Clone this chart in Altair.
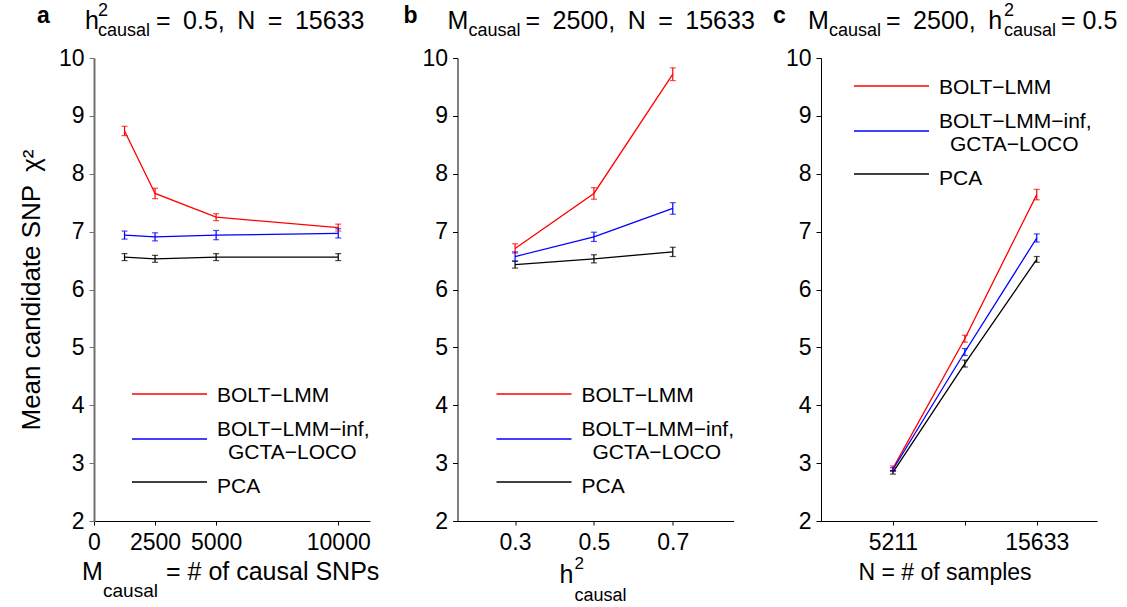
import altair as alt
import pandas as pd

FONT = "Liberation Sans"
M = "\u2212"
ES = "\u2002"
SERIES = ["BOLT-LMM", "BOLT-LMM-inf", "PCA"]
COLORS = ["#ff0000", "#0000ff", "#000000"]

# ---- panel a: varying M_causal ----
a_x = [1250, 2500, 5000, 10000]
a_bolt = [8.74, 7.66, 7.25, 7.07]
a_bolt_err = [0.08, 0.09, 0.06, 0.06]
a_inf = [6.94, 6.91, 6.94, 6.97]
a_inf_err = [0.07, 0.07, 0.08, 0.08]
a_pca = [6.56, 6.53, 6.56, 6.56]
a_pca_err = [0.06, 0.06, 0.06, 0.06]
a_ticks = [0, 2500, 5000, 10000]

# ---- panel b: varying h2_causal ----
b_x = [0.3, 0.5, 0.7]
b_bolt = [6.71, 7.66, 9.72]
b_bolt_err = [0.08, 0.1, 0.11]
b_inf = [6.57, 6.91, 7.40]
b_inf_err = [0.08, 0.08, 0.1]
b_pca = [6.43, 6.53, 6.65]
b_pca_err = [0.06, 0.07, 0.08]
b_ticks = [0.3, 0.5, 0.7]

# ---- panel c: varying N ----
c_x = [5211, 10422, 15633]
c_bolt = [2.91, 5.15, 7.64]
c_bolt_err = [0.04, 0.06, 0.09]
c_inf = [2.89, 4.92, 6.89]
c_inf_err = [0.03, 0.06, 0.07]
c_pca = [2.84, 4.72, 6.52]
c_pca_err = [0.03, 0.06, 0.05]
c_ticks = [5211, 10422, 15633]

Y_TICKS = [2, 3, 4, 5, 6, 7, 8, 9, 10]
W, H = 276, 463
DUMMY = pd.DataFrame({"k": [0]})


def make_df(xs, vals, errs):
    rows = []
    for s, v, e in zip(SERIES, vals, errs):
        for x, y, er in zip(xs, v, e):
            rows.append({"x": x, "y": y, "lo": y - er, "hi": y + er, "s": s})
    return pd.DataFrame(rows)


def txt(text, x, y, size=22, weight="normal", align="left", baseline="alphabetic", angle=0):
    return alt.Chart(DUMMY).mark_text(
        text=text, font=FONT, fontSize=size, fontWeight=weight, align=align,
        baseline=baseline, color="black", angle=angle
    ).encode(x=alt.value(x), y=alt.value(y))


def seg(x1, x2, y, color):
    return alt.Chart(DUMMY).mark_rule(color=color, strokeWidth=1.3).encode(
        x=alt.value(x1), x2=alt.value(x2), y=alt.value(y)
    )


def legend(lx, ly):
    L = 75
    tx = lx + L + 10
    return [
        seg(lx, lx + L, ly, COLORS[0]),
        seg(lx, lx + L, ly + 45, COLORS[1]),
        seg(lx, lx + L, ly + 88, COLORS[2]),
        txt(f"BOLT{M}LMM", tx, ly + 2, size=21, baseline="middle"),
        txt(f"BOLT{M}LMM{M}inf,", tx, ly + 36, size=21, baseline="middle"),
        txt(f"GCTA{M}LOCO", tx + 11, ly + 59, size=21, baseline="middle"),
        txt("PCA", tx, ly + 93, size=21, baseline="middle"),
    ]


def panel(df, xdomain, xticks, xfmt, extras, labelExpr=None, ytitle=None, ycolor="black", ywidth=1):
    xs = alt.Scale(domain=xdomain, nice=False, zero=False)
    ys = alt.Scale(domain=[2, 10], nice=False, zero=False)
    xaxis_kw = dict(values=xticks, format=xfmt, title=None, grid=False, tickSize=4,
                    labelPadding=6, labelFontSize=23, labelFont=FONT, labelColor="black",
                    domainColor="black", tickColor="black", domainWidth=1, labelFlush=False,
                    labelOverlap=False)
    if labelExpr:
        xaxis_kw["labelExpr"] = labelExpr
    yaxis_kw = dict(values=Y_TICKS, format="d", grid=False, tickSize=5, labelPadding=5,
                    labelFontSize=23, labelFont=FONT, labelColor="black", domainColor=ycolor,
                    tickColor=ycolor, domainWidth=ywidth, labelFlush=False, labelOverlap=False)
    if ytitle:
        yaxis_kw.update(title=ytitle, titleFont=FONT, titleFontSize=26, titleFontWeight="normal",
                        titleColor="black", titleX=-50, titleY=H / 2, titleAngle=270,
                        titleBaseline="bottom", titleAlign="center")
    else:
        yaxis_kw["title"] = None
    color = alt.Color("s:N", scale=alt.Scale(domain=SERIES, range=COLORS), legend=None)
    base = alt.Chart(df)
    lines = base.mark_line(strokeWidth=1.3).encode(
        x=alt.X("x:Q", scale=xs, axis=alt.Axis(**xaxis_kw)),
        y=alt.Y("y:Q", scale=ys, axis=alt.Axis(**yaxis_kw)),
        color=color,
    )
    bars = base.mark_rule(strokeWidth=1.2).encode(
        x=alt.X("x:Q", scale=xs), y=alt.Y("lo:Q", scale=ys), y2="hi:Q", color=color
    )
    cap_lo = base.mark_tick(orient="horizontal", size=6, thickness=1.2).encode(
        x=alt.X("x:Q", scale=xs), y=alt.Y("lo:Q", scale=ys), color=color
    )
    cap_hi = base.mark_tick(orient="horizontal", size=6, thickness=1.2).encode(
        x=alt.X("x:Q", scale=xs), y=alt.Y("hi:Q", scale=ys), color=color
    )
    return alt.layer(lines, bars, cap_lo, cap_hi, *extras).properties(width=W, height=H)


df_a = make_df(a_x, [a_bolt, a_inf, a_pca], [a_bolt_err, a_inf_err, a_pca_err])
df_b = make_df(b_x, [b_bolt, b_inf, b_pca], [b_bolt_err, b_inf_err, b_pca_err])
df_c = make_df(c_x, [c_bolt, c_inf, c_pca], [c_bolt_err, c_inf_err, c_pca_err])

anchor = alt.Chart(DUMMY).mark_rule(opacity=0, strokeWidth=0.5).encode(
    x=alt.value(-94), x2=alt.value(-93), y=alt.value(-58), y2=alt.value(-58)
)

TS, SS = 25, 18  # title size, sub/superscript size

extras_a = [
    anchor,
    txt("a", -57, -35, size=23, weight="bold"),
    txt("h", -9, -29, size=TS),
    txt("2", 4, -42, size=SS),
    txt("causal", 4, -22, size=SS),
    txt(f"={ES}0.5,{ES}N{ES}={ES}15633", 62, -29, size=TS),
    txt("M", -12, 522, size=25),
    txt("causal", 9, 539, size=19),
    txt("= # of causal SNPs", 72, 522, size=25),
] + legend(38, 336)

extras_b = [
    txt("b", -54, -35, size=23, weight="bold"),
    txt("M", -10, -29, size=TS),
    txt("causal", 11, -22, size=SS),
    txt(f"={ES}2500,{ES}N{ES}={ES}15633", 68, -29, size=TS),
    txt("h", 102, 525, size=25),
    txt("2", 117, 511, size=17),
    txt("causal", 117, 543, size=18),
] + legend(39, 336)

extras_c = [
    txt("c", -48, -35, size=23, weight="bold"),
    txt("M", -13, -29, size=TS),
    txt("causal", 8, -22, size=SS),
    txt(f"={ES}2500,{ES}h", 65, -29, size=TS),
    txt("2", 183, -42, size=SS),
    txt("causal", 183, -22, size=SS),
    txt("= 0.5", 240, -29, size=TS),
    txt("N = # of samples", 124, 522, size=23, align="center"),
] + legend(33, 28)

pa = panel(df_a, [0, 11300], a_ticks, "d", extras_a,
           ytitle=f"Mean candidate SNP{ES}\u03c7\u00b2", ycolor="#707070", ywidth=2)
pb = panel(df_b, [0.154, 0.854], b_ticks, ".1f", extras_b)
pc = panel(df_c, [0, 20000], c_ticks, "d", extras_c,
           labelExpr="datum.value == 10422 ? '' : datum.label")

chart = alt.hconcat(pa, pb, pc, spacing=87.5, bounds="flush").properties(
    padding=0, background="white"
).configure_view(stroke=None)

chart.save("out.html", embed_options={"renderer": "svg", "actions": False})
